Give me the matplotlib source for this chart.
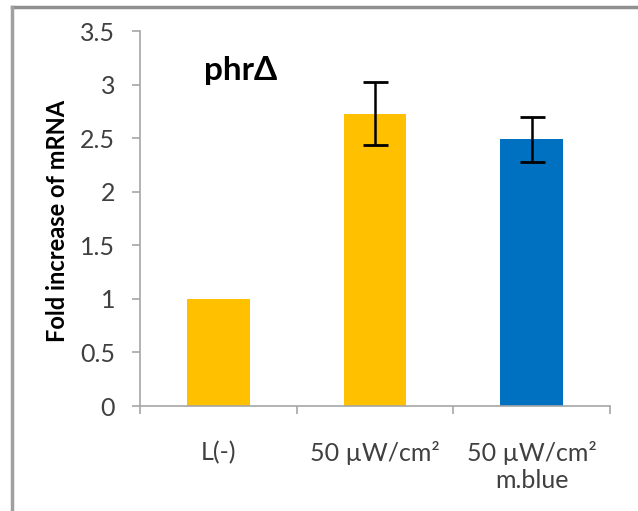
import matplotlib.pyplot as plt
from matplotlib.lines import Line2D

# data
categories = ['L(-)', '50 µW/cm²', '50 µW/cm²\nm.blue']
values = [1.0, 2.73, 2.49]
errors = [None, 0.29, 0.21]
colors = ['#FFC000', '#FFC000', '#0070C0']

plt.rcParams['font.family'] = ['Lato', 'DejaVu Sans']

fig = plt.figure(figsize=(6.38, 5.11), dpi=100)
ax = fig.add_axes([140 / 638, 1 - 406 / 511, 470 / 638, 375 / 511])

x = list(range(len(categories)))
ax.bar(x, values, width=0.4, color=colors, zorder=2)
for xi, v, e in zip(x, values, errors):
    if e is not None:
        ax.errorbar(xi, v, yerr=e, fmt='none', ecolor='black', elinewidth=1.8,
                    capsize=9, capthick=2, zorder=3)

ax.set_xlim(-0.5, 2.5)
ax.set_ylim(0, 3.5)
ax.set_yticks([0, 0.5, 1, 1.5, 2, 2.5, 3, 3.5])
ax.set_yticklabels(['0', '0.5', '1', '1.5', '2', '2.5', '3', '3.5'])
ax.set_xticks(x)
ax.set_xticklabels(categories)
ax.set_xticks([-0.5, 0.5, 1.5, 2.5], minor=True)

for s in ['top', 'right']:
    ax.spines[s].set_visible(False)
for s in ['left', 'bottom']:
    ax.spines[s].set_color('#A6A6A6')
    ax.spines[s].set_linewidth(1.2)

ax.tick_params(axis='y', colors='#A6A6A6', labelcolor='#404040', length=6,
               width=1.2, labelsize=18, pad=12)
ax.tick_params(axis='x', which='major', length=0, labelcolor='#404040',
               labelsize=18, pad=25)
ax.tick_params(axis='x', which='minor', length=6, width=1.2, color='#A6A6A6')

ax.set_ylabel('Fold increase of mRNA', fontsize=17, fontweight='bold')
ax.yaxis.set_label_coords(-0.151, 0.493)
ax.text(0.14, 3.13, 'phrΔ', fontsize=24, fontweight='bold', ha='center', va='center')

# outer frame (top and left edges visible)
fig.add_artist(Line2D([11.5 / 638, 1], [1 - 7 / 511, 1 - 7 / 511], color='#909090', lw=2.5))
fig.add_artist(Line2D([11.5 / 638, 11.5 / 638], [0, 1 - 7 / 511], color='#A0A0A0', lw=2.5))

fig.savefig('out.png', dpi=100)
